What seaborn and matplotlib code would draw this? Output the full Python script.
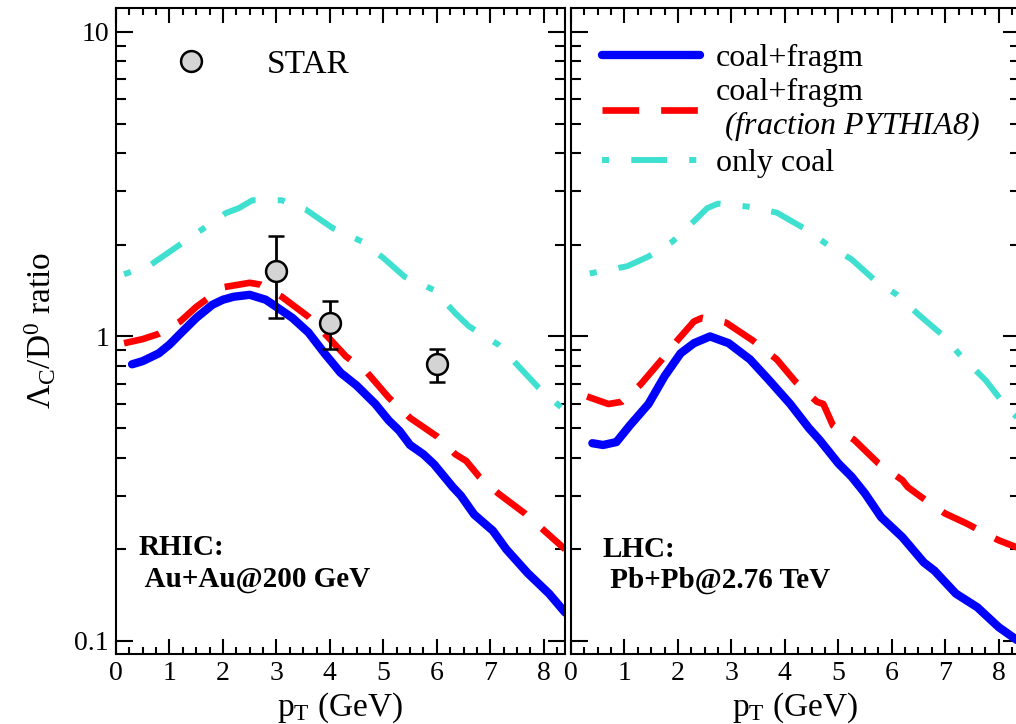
import numpy as np
import pandas as pd
import seaborn as sns
import matplotlib
import matplotlib.pyplot as plt
from matplotlib.lines import Line2D
from matplotlib.ticker import MultipleLocator, LogLocator, NullFormatter

matplotlib.use('Agg')

# RHIC (Au+Au 200 GeV) curves
rhic_pt_blue = [0.3, 0.5, 0.8, 1.0, 1.2, 1.5, 1.8, 2.0, 2.2, 2.5, 2.8, 3.0, 3.3, 3.6, 3.9, 4.2,
                4.5, 4.85, 5.1, 5.3, 5.5, 5.75, 5.95, 6.3, 6.45, 6.7, 7.05, 7.3, 7.7, 8.1, 8.4]
rhic_coal_fragm = [0.81, 0.83, 0.88, 0.94, 1.02, 1.15, 1.27, 1.32, 1.35, 1.37, 1.32, 1.25, 1.15,
                   1.03, 0.88, 0.76, 0.69, 0.60, 0.53, 0.49, 0.44, 0.41, 0.38, 0.32, 0.30, 0.26,
                   0.23, 0.20, 0.167, 0.143, 0.124]
rhic_pt_red = [0.15, 0.5, 0.8, 1.2, 1.5, 2.0, 2.5, 2.7, 3.1, 3.6, 4.0, 4.3, 4.7, 5.1, 5.5, 6.0,
               6.35, 6.55, 6.8, 7.15, 7.65, 8.0, 8.4]
rhic_pythia = [0.95, 0.98, 1.02, 1.12, 1.25, 1.45, 1.50, 1.48, 1.35, 1.16, 0.98, 0.86, 0.76, 0.63,
               0.54, 0.47, 0.41, 0.39, 0.345, 0.305, 0.262, 0.231, 0.20]
rhic_pt_cyan = [0.15, 0.65, 1.1, 1.6, 2.05, 2.3, 2.55, 3.1, 3.55, 4.05, 4.6, 5.0, 5.4, 5.95, 6.35,
                6.6, 7.15, 7.9, 8.4]
rhic_only_coal = [1.60, 1.72, 1.95, 2.24, 2.54, 2.64, 2.80, 2.80, 2.61, 2.27, 2.05, 1.81, 1.57,
                  1.42, 1.19, 1.08, 0.94, 0.68, 0.57]

# STAR data
star_pt = [3.0, 4.0, 6.0]
star_ratio = [1.64, 1.11, 0.81]
star_low = [1.15, 0.906, 0.71]
star_high = [2.13, 1.31, 0.906]

# LHC (Pb+Pb 2.76 TeV) curves
lhc_pt_blue = [0.4, 0.6, 0.85, 1.1, 1.45, 1.75, 2.05, 2.3, 2.6, 2.95, 3.35, 3.7, 4.1, 4.45, 4.65,
               5.0, 5.25, 5.5, 5.8, 6.2, 6.6, 6.8, 7.2, 7.6, 8.0, 8.4]
lhc_coal_fragm = [0.446, 0.44, 0.45, 0.51, 0.60, 0.74, 0.88, 0.95, 1.0, 0.95, 0.84, 0.72, 0.60,
                  0.50, 0.457, 0.383, 0.346, 0.305, 0.255, 0.219, 0.181, 0.170, 0.143, 0.129,
                  0.111, 0.099]
lhc_pt_red = [0.3, 0.7, 0.95, 1.3, 1.7, 2.0, 2.3, 2.45, 2.9, 3.4, 3.85, 4.2, 4.6, 4.72, 4.9, 5.3,
              5.75, 6.2, 6.3, 6.55, 7.0, 7.4, 8.0, 8.4]
lhc_pythia = [0.635, 0.60, 0.61, 0.695, 0.84, 0.975, 1.12, 1.15, 1.11, 0.97, 0.84, 0.71, 0.61,
              0.60, 0.51, 0.457, 0.383, 0.337, 0.32, 0.297, 0.262, 0.243, 0.214, 0.201]
lhc_pt_cyan = [0.35, 1.05, 1.45, 1.9, 2.3, 2.55, 2.75, 3.3, 3.85, 4.35, 4.8, 5.25, 5.7, 6.1, 6.5,
               6.95, 7.3, 7.75, 8.1, 8.4]
lhc_only_coal = [1.61, 1.70, 1.83, 2.05, 2.39, 2.64, 2.73, 2.67, 2.55, 2.27, 2.0, 1.79, 1.52, 1.37,
                 1.18, 1.01, 0.86, 0.72, 0.60, 0.53]

labels = ['coal+fragm', 'coal+fragm\n' + r' $\mathsf{(fraction\ PYTHIA8)}$', 'only coal']

sns.set_theme(style='ticks')
plt.rcParams['font.family'] = ['Liberation Serif', 'DejaVu Serif']
plt.rcParams['mathtext.fontset'] = 'custom'
plt.rcParams['mathtext.rm'] = 'Liberation Serif'
plt.rcParams['mathtext.it'] = 'Liberation Serif:italic'
plt.rcParams['mathtext.sf'] = 'Liberation Serif:italic'  # used for the all-italic legend line
plt.rcParams['mathtext.bf'] = 'Liberation Serif:bold'
for key in ['text.color', 'axes.labelcolor', 'xtick.color', 'ytick.color']:
    plt.rcParams[key] = 'black'

BLUE = '#0000ff'
RED = '#ff0000'
CYAN = '#40e0d0'


def draw_curves(ax, pt_b, yb, pt_r, yr, pt_c, yc):
    df_b = pd.DataFrame({'pt': pt_b, 'ratio': yb})
    df_r = pd.DataFrame({'pt': pt_r, 'ratio': yr})
    df_c = pd.DataFrame({'pt': pt_c, 'ratio': yc})
    sns.lineplot(data=df_c, x='pt', y='ratio', ax=ax, color=CYAN, lw=4.3,
                 linestyle=(0, (1.2, 3.7, 6.0, 3.7)))
    sns.lineplot(data=df_r, x='pt', y='ratio', ax=ax, color=RED, lw=4.8,
                 linestyle=(0, (5.5, 3.3)))
    sns.lineplot(data=df_b, x='pt', y='ratio', ax=ax, color=BLUE, lw=6.0)
    lines = ax.get_lines()
    return lines[2], lines[1], lines[0]


def style_axis(ax):
    ax.set_yscale('log')
    ax.set_xlim(0, 8.4)
    ax.set_ylim(0.0906, 12.0)
    ax.xaxis.set_major_locator(MultipleLocator(1))
    ax.xaxis.set_minor_locator(MultipleLocator(0.25))
    ax.yaxis.set_minor_locator(LogLocator(base=10, subs=np.arange(2, 10)))
    ax.yaxis.set_minor_formatter(NullFormatter())
    ax.tick_params(which='both', direction='in', top=True, right=True, width=1.5,
                   color='black', labelsize=20, pad=5)
    ax.tick_params(axis='x', which='major', length=11)
    ax.tick_params(axis='x', which='minor', length=5)
    ax.tick_params(axis='y', which='major', length=12)
    ax.tick_params(axis='y', which='minor', length=7)
    for s in ax.spines.values():
        s.set_linewidth(1.5)
        s.set_color('black')
    ax.set_xlabel(r'p$_\mathrm{T}$ (GeV)', fontsize=24, labelpad=3)


fig = plt.figure(figsize=(10.16, 7.24), dpi=100)
ax1 = fig.add_axes([0.1142, 0.0967, 0.442, 0.8925])
ax2 = fig.add_axes([0.562, 0.0967, 0.442, 0.8925])

draw_curves(ax1, rhic_pt_blue, rhic_coal_fragm, rhic_pt_red, rhic_pythia,
            rhic_pt_cyan, rhic_only_coal)
yerr = [np.array(star_ratio) - np.array(star_low), np.array(star_high) - np.array(star_ratio)]
ax1.errorbar(star_pt, star_ratio, yerr=yerr, fmt='o', ms=15, mfc='#d4d4d4', mec='black',
             mew=1.8, ecolor='black', elinewidth=2, capsize=6, capthick=2, zorder=5)
hb, hr, hc = draw_curves(ax2, lhc_pt_blue, lhc_coal_fragm, lhc_pt_red, lhc_pythia,
                         lhc_pt_cyan, lhc_only_coal)

for ax in (ax1, ax2):
    style_axis(ax)
ax1.set_yticks([0.1, 1, 10], labels=['0.1', '1', '10'])
ax2.set_yticks([0.1, 1, 10], labels=['', '', ''])
ax2.set_ylabel('')
ax1.set_ylabel(r'$\Lambda_{\mathrm{C}}/\mathrm{D}^{0}$ ratio', fontsize=24, labelpad=12)

# legends
star_handle = Line2D([], [], marker='o', ls='none', ms=15, mfc='#d4d4d4', mec='black', mew=1.8)
ax1.legend(handles=[star_handle], labels=['STAR'], loc='center left', frameon=False,
           bbox_to_anchor=(0.0924, 0.912), borderpad=0, borderaxespad=0, handlelength=2.0,
           handletextpad=1.28, fontsize=24)
leg = ax2.legend(handles=[hb, hr, hc], labels=labels, loc='upper left', frameon=False,
                 bbox_to_anchor=(0.07, 0.945), borderpad=0, borderaxespad=0, handlelength=3.05,
                 handletextpad=0.5, labelspacing=0.18, fontsize=23)
for t in leg.get_texts():
    t.set_linespacing(1.05)

ax1.text(0.051, 0.153, 'RHIC:', transform=ax1.transAxes, fontsize=21, fontweight='bold',
         va='baseline')
ax1.text(0.051, 0.104, ' Au+Au@200 GeV', transform=ax1.transAxes, fontsize=21,
         fontweight='bold', va='baseline')
ax2.text(0.071, 0.150, 'LHC:', transform=ax2.transAxes, fontsize=21, fontweight='bold',
         va='baseline')
ax2.text(0.071, 0.102, ' Pb+Pb@2.76 TeV', transform=ax2.transAxes, fontsize=21,
         fontweight='bold', va='baseline')

fig.savefig('out.png', dpi=100)
